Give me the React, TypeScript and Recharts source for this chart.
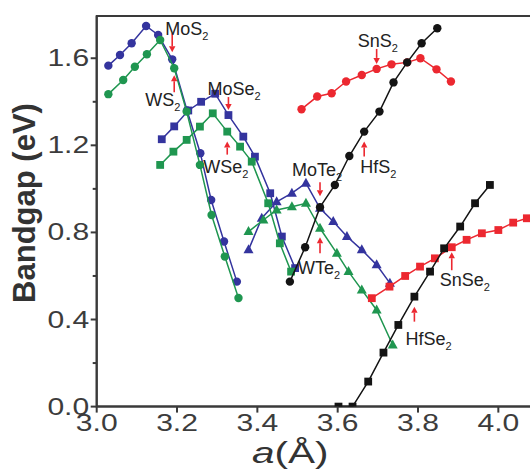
import React from 'react';
import {
  ReferenceArea,
  ReferenceDot,
  Scatter,
  ScatterChart,
  XAxis,
  YAxis,
} from 'recharts';

// lattice constant a (Å) vs. bandgap (eV), strained from -5% to +5%
const mos2A = [3.029, 3.058, 3.087, 3.123, 3.153, 3.188, 3.225, 3.258, 3.285, 3.317, 3.349];
const mos2Gap = [1.566, 1.615, 1.669, 1.748, 1.707, 1.595, 1.36, 1.164, 0.949, 0.758, 0.574];

const ws2A = [3.029, 3.066, 3.095, 3.125, 3.158, 3.193, 3.224, 3.257, 3.286, 3.319, 3.353];
const ws2Gap = [1.435, 1.5, 1.561, 1.618, 1.684, 1.554, 1.355, 1.11, 0.88, 0.689, 0.499];

const mose2A = [3.162, 3.193, 3.228, 3.26, 3.295, 3.328, 3.365, 3.394, 3.432, 3.461, 3.494];
const mose2Gap = [1.228, 1.287, 1.36, 1.4, 1.437, 1.339, 1.24, 1.148, 0.98, 0.781, 0.636];

const wse2A = [3.158, 3.191, 3.224, 3.257, 3.289, 3.325, 3.357, 3.386, 3.427, 3.456, 3.484];
const wse2Gap = [1.11, 1.171, 1.225, 1.286, 1.347, 1.263, 1.194, 1.125, 0.934, 0.75, 0.62];

const mote2A = [3.378, 3.411, 3.448, 3.486, 3.521, 3.556, 3.589, 3.623, 3.66, 3.697, 3.73];
const mote2Gap = [0.72, 0.865, 0.941, 0.98, 1.026, 0.911, 0.85, 0.781, 0.72, 0.651, 0.567];

const wte2A = [3.378, 3.415, 3.448, 3.486, 3.521, 3.556, 3.598, 3.627, 3.66, 3.697, 3.737];
const wte2Gap = [0.804, 0.857, 0.903, 0.918, 0.934, 0.819, 0.704, 0.62, 0.536, 0.444, 0.283];

const hfs2A = [3.481, 3.519, 3.556, 3.593, 3.629, 3.666, 3.704, 3.739, 3.773, 3.809, 3.848];
const hfs2Gap = [0.574, 0.732, 0.916, 1.018, 1.151, 1.263, 1.355, 1.489, 1.581, 1.669, 1.738];

const sns2A = [3.51, 3.549, 3.585, 3.621, 3.66, 3.697, 3.734, 3.773, 3.806, 3.846, 3.882];
const sns2Gap = [1.366, 1.424, 1.439, 1.493, 1.523, 1.551, 1.572, 1.581, 1.6, 1.549, 1.493];

const snse2A = [3.685, 3.729, 3.768, 3.805, 3.842, 3.884, 3.921, 3.959, 4.0, 4.037, 4.071];
const snse2Gap = [0.498, 0.551, 0.6, 0.643, 0.681, 0.732, 0.766, 0.796, 0.811, 0.845, 0.865];

const hfse2A = [3.602, 3.637, 3.676, 3.714, 3.751, 3.791, 3.83, 3.865, 3.905, 3.942, 3.979];
const hfse2Gap = [0, 0, 0.115, 0.248, 0.375, 0.505, 0.62, 0.727, 0.827, 0.934, 1.018];

const xTicks = [3.0, 3.2, 3.4, 3.6, 3.8, 4.0];
const yTicks = [0, 0.2, 0.4, 0.6, 0.8, 1.0, 1.2, 1.4, 1.6];
const yLabelTicks = [0, 0.4, 0.8, 1.2, 1.6];

const BLUE = '#34349e';
const GREEN = '#1f9650';
const RED = '#ec2830';
const BLACK = '#141414';
const AXIS = '#3a3a3a';
const FONT = '"Liberation Sans", Arial, sans-serif';

const toPoints = (a: number[], gap: number[]) => a.map((x, i) => ({ a: x, gap: gap[i] }));

const circle = (color: string) => (p: any) => <circle cx={p.cx} cy={p.cy} r={4.2} fill={color} />;
const square = (color: string) => (p: any) => (
  <rect x={p.cx - 3.9} y={p.cy - 3.9} width={7.8} height={7.8} fill={color} />
);
const triangle = (color: string) => (p: any) => (
  <polygon
    points={`${p.cx},${p.cy - 5.5} ${p.cx + 5},${p.cy + 3.5} ${p.cx - 5},${p.cy + 3.5}`}
    fill={color}
  />
);

const series = [
  { name: 'MoS2', a: mos2A, gap: mos2Gap, color: BLUE, shape: circle },
  { name: 'MoSe2', a: mose2A, gap: mose2Gap, color: BLUE, shape: square },
  { name: 'MoTe2', a: mote2A, gap: mote2Gap, color: BLUE, shape: triangle },
  { name: 'WS2', a: ws2A, gap: ws2Gap, color: GREEN, shape: circle },
  { name: 'WSe2', a: wse2A, gap: wse2Gap, color: GREEN, shape: square },
  { name: 'WTe2', a: wte2A, gap: wte2Gap, color: GREEN, shape: triangle },
  { name: 'SnS2', a: sns2A, gap: sns2Gap, color: RED, shape: circle },
  { name: 'SnSe2', a: snse2A, gap: snse2Gap, color: RED, shape: square },
  { name: 'HfS2', a: hfs2A, gap: hfs2Gap, color: BLACK, shape: circle },
  { name: 'HfSe2', a: hfse2A, gap: hfse2Gap, color: BLACK, shape: square },
];

// arrows mark the unstrained point (index 5); offsets are in pixels from that point
const tags = [
  { text: 'MoS', a: mos2A, gap: mos2Gap, dx: -7, dy: -24, tail: -26, tip: -7 },
  { text: 'WS', a: ws2A, gap: ws2Gap, dx: -29, dy: 38, tail: 24, tip: 7 },
  { text: 'MoSe', a: mose2A, gap: mose2Gap, dx: -21, dy: -20, tail: -18, tip: -5 },
  { text: 'WSe', a: wse2A, gap: wse2Gap, dx: -24, dy: 41, tail: 23, tip: 10 },
  { text: 'MoTe', a: mote2A, gap: mote2Gap, dx: -28, dy: -32, tail: -26, tip: -12 },
  { text: 'WTe', a: wte2A, gap: wte2Gap, dx: -22, dy: 46, tail: 25, tip: 9 },
  { text: 'SnS', a: sns2A, gap: sns2Gap, dx: -19, dy: -22, tail: -20, tip: -5 },
  { text: 'HfS', a: hfs2A, gap: hfs2Gap, dx: -4, dy: 41, tail: 25, tip: 10 },
  { text: 'SnSe', a: snse2A, gap: snse2Gap, dx: -12, dy: 39, tail: 23, tip: 5 },
  { text: 'HfSe', a: hfse2A, gap: hfse2Gap, dx: -9, dy: 48, tail: 25, tip: 10 },
];

function Tag(props: any) {
  const { cx, cy, text, dx, dy, tail, tip } = props;
  const tipY = cy + tip;
  const tailY = cy + tail;
  const dir = tipY > tailY ? 1 : -1;
  const head = 6;
  return (
    <g>
      <line x1={cx} y1={tailY} x2={cx} y2={tipY - dir * head} stroke={RED} strokeWidth={1.6} />
      <polygon
        points={`${cx},${tipY} ${cx - 3.2},${tipY - dir * head} ${cx + 3.2},${tipY - dir * head}`}
        fill={RED}
      />
      <text x={cx + dx} y={cy + dy} fontSize={18} fill="#222" fontFamily={FONT}>
        {text}
        <tspan fontSize={11} dy={5}>
          2
        </tspan>
      </text>
    </g>
  );
}

function XTick(props: any) {
  const { x, y, payload } = props;
  return (
    <g>
      <line x1={x} x2={x} y1={y} y2={y + 6} stroke={AXIS} strokeWidth={2} />
      <text
        transform={`translate(${x},${y + 24.5}) scale(1.28,1)`}
        textAnchor="middle"
        fontSize={23.5}
        fill="#3c3c3c"
        fontFamily={FONT}
      >
        {payload.value.toFixed(1)}
      </text>
    </g>
  );
}

function YTick(props: any) {
  const { x, y, payload } = props;
  const major = yLabelTicks.some((t) => Math.abs(t - payload.value) < 1e-6);
  return (
    <g>
      <line x1={x - (major ? 6 : 4)} x2={x} y1={y} y2={y} stroke={AXIS} strokeWidth={2} />
      {major ? (
        <text
          transform={`translate(${x - 7.5},${y + 8}) scale(1.28,1)`}
          textAnchor="end"
          fontSize={23.5}
          fill="#3c3c3c"
          fontFamily={FONT}
        >
          {payload.value.toFixed(1)}
        </text>
      ) : null}
    </g>
  );
}

export default function App() {
  return (
    <div
      style={{
        position: 'absolute',
        left: 0,
        top: 0,
        width: 530,
        height: 474,
        overflow: 'hidden',
        background: '#fff',
      }}
    >
      <ScatterChart width={545} height={474} margin={{ top: 16, right: 6.5, bottom: 0, left: 0 }}>
        <XAxis
          type="number"
          dataKey="a"
          domain={[3.0, 4.1]}
          ticks={xTicks}
          interval={0}
          allowDataOverflow
          height={67.4}
          axisLine={{ stroke: AXIS, strokeWidth: 2 }}
          tickLine={false}
          tickSize={0}
          tickMargin={0}
          tick={<XTick />}
          label={{
            content: () => (
              <text
                transform="translate(252,463) scale(1.35,1)"
                fontSize={30}
                fill="#333"
                fontFamily={FONT}
              >
                <tspan fontStyle="italic">a</tspan>
                (Å)
              </text>
            ),
          }}
        />
        <YAxis
          type="number"
          dataKey="gap"
          domain={[0, 1.794]}
          ticks={yTicks}
          interval={0}
          allowDataOverflow
          width={96.7}
          axisLine={{ stroke: AXIS, strokeWidth: 2 }}
          tickLine={false}
          tickSize={0}
          tickMargin={0}
          tick={<YTick />}
          label={{
            content: () => (
              <text
                transform="translate(35,203) rotate(-90)"
                textAnchor="middle"
                fontSize={31}
                fontWeight="bold"
                fill="#333"
                fontFamily={FONT}
              >
                Bandgap (eV)
              </text>
            ),
          }}
        />
        <ReferenceArea
          x1={3.0}
          x2={4.1}
          y1={0}
          y2={1.794}
          fill="none"
          stroke={AXIS}
          strokeWidth={2}
        />
        {series.map((s) => (
          <Scatter
            key={s.name}
            name={s.name}
            data={toPoints(s.a, s.gap)}
            fill={s.color}
            line={{ stroke: s.color, strokeWidth: 1.5 }}
            lineType="joint"
            shape={s.shape(s.color)}
            isAnimationActive={false}
          />
        ))}
        {tags.map((t) => (
          <ReferenceDot
            key={t.text}
            x={t.a[5]}
            y={t.gap[5]}
            r={0}
            shape={(p: any) => <Tag {...p} {...t} />}
          />
        ))}
      </ScatterChart>
    </div>
  );
}
